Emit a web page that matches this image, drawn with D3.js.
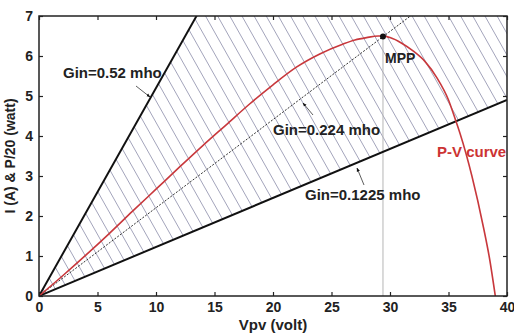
<!DOCTYPE html>
<html><head><meta charset="utf-8">
<script src="https://cdn.jsdelivr.net/npm/d3@7"></script>
<style>body{margin:0;background:#fff}svg{display:block}text{font-family:Arial,"Liberation Sans",sans-serif;font-weight:bold}</style>
</head><body><svg id="c" width="514" height="334"></svg>
<script>
const pvV = [0,2,4,6,8,10,12,14,16,18,20,22,24,26,27,28,29,29.4,30,31,32,33,34,35,35.6,36,37,38,38.5,39];
const pvP = [0,0.5,1.02,1.56,2.12,2.67,3.22,3.76,4.28,4.8,5.28,5.72,6.05,6.3,6.4,6.46,6.5,6.5,6.46,6.32,6.12,5.86,5.46,4.9,4.4,4.05,3.0,1.7,0.95,0];
const ginValues = [0.52, 0.2205, 0.1225];
const ginLabels = ["Gin=0.52 mho","Gin=0.224 mho","Gin=0.1225 mho"];
const mpp = [29.4, 6.49];
const xTicks = [0,5,10,15,20,25,30,35,40];
const yTicks = [0,1,2,3,4,5,6,7];
const hatchSlope = -0.52;
const hatchOffsets = d3.range(0, 60).map(k => 14.4 + (k - 27) * 0.54).filter(c => c > 0 && c < 28);

const svg = d3.select("#c");
const L=39,R=507,T=16,B=296;
const x = d3.scaleLinear().domain([0,40]).range([L,R]);
const y = d3.scaleLinear().domain([0,7]).range([B,T]);

const defs = svg.append("defs");
const region = [[0,0],[7/ginValues[0],7],[40,7],[40,40*ginValues[2]]];
defs.append("clipPath").attr("id","hc").append("polygon")
  .attr("points", region.map(p=>[x(p[0]),y(p[1])].join(",")).join(" "));
defs.append("clipPath").attr("id","pc").append("rect").attr("x",L).attr("y",T).attr("width",R-L).attr("height",B-T);
const mk = defs.append("marker").attr("id","ah").attr("viewBox","0 0 10 10").attr("refX",9).attr("refY",5)
  .attr("markerWidth",5).attr("markerHeight",5).attr("orient","auto");
mk.append("path").attr("d","M0,1 L10,5 L0,9 Z").attr("fill","#111");

const hg = svg.append("g").attr("clip-path","url(#hc)");
hatchOffsets.forEach(c=>{
  const v1=-10, v2=60;
  hg.append("line").attr("x1",x(v1)).attr("y1",y(c+hatchSlope*v1)).attr("x2",x(v2)).attr("y2",y(c+hatchSlope*v2))
    .attr("stroke","#a3a4bb").attr("stroke-width",1);
});

const pg = svg.append("g").attr("clip-path","url(#pc)");
pg.append("line").attr("x1",x(mpp[0])).attr("x2",x(mpp[0])).attr("y1",y(mpp[1])).attr("y2",y(0))
  .attr("stroke","#b5b5b5").attr("stroke-width",1);
ginValues.forEach((g,i)=>{
  pg.append("line").attr("x1",x(0)).attr("y1",y(0)).attr("x2",x(40)).attr("y2",y(40*g))
    .attr("stroke", i===1?"#333":"#111").attr("stroke-width", i===1?1:2)
    .attr("stroke-dasharray", i===1?"2,1.5":null);
});
const line = d3.line().x((d,i)=>x(pvV[i])).y((d,i)=>y(pvP[i])).curve(d3.curveMonotoneX);
pg.append("path").datum(pvV).attr("d",line).attr("fill","none").attr("stroke","#c8383c").attr("stroke-width",1.6);
pg.append("circle").attr("cx",x(mpp[0])).attr("cy",y(mpp[1])).attr("r",3).attr("fill","#111");

svg.append("rect").attr("x",L).attr("y",T).attr("width",R-L).attr("height",B-T).attr("fill","none").attr("stroke","#222").attr("stroke-width",1.5);
const fmt = d3.format("d");
const ax = svg.append("g").attr("transform",`translate(0,${B})`).call(d3.axisBottom(x).tickValues(xTicks).tickSize(-4).tickPadding(6).tickFormat(fmt));
const axT = svg.append("g").attr("transform",`translate(0,${T})`).call(d3.axisTop(x).tickValues(xTicks).tickSize(-4).tickFormat(""));
const ay = svg.append("g").attr("transform",`translate(${L},0)`).call(d3.axisLeft(y).tickValues(yTicks).tickSize(-4).tickPadding(6).tickFormat(fmt));
const ayR = svg.append("g").attr("transform",`translate(${R},0)`).call(d3.axisRight(y).tickValues(yTicks).tickSize(-4).tickFormat(""));
[ax,axT,ay,ayR].forEach(g=>{g.select(".domain").remove();g.selectAll("line").attr("stroke","#222").attr("stroke-width",1.2);
  g.selectAll("text").attr("font-size",14).attr("fill","#222").attr("font-family","Arial, 'Liberation Sans', sans-serif").attr("font-weight","bold");});

svg.append("text").attr("x",273).attr("y",330).attr("text-anchor","middle").attr("font-size",15).attr("fill","#222").text("Vpv (volt)");
svg.append("text").attr("transform","translate(15,156) rotate(-90)").attr("text-anchor","middle").attr("font-size",14).attr("fill","#222").text("I (A) & P/20 (watt)");

const ann = [
  {t:ginLabels[0], tx:63, ty:78, a:[[136,86],[150,97]]},
  {t:ginLabels[1], tx:273, ty:135, a:[[313,115],[303,103]]},
  {t:ginLabels[2], tx:305, ty:200, a:[[364,185],[357,168]]}
];
ann.forEach(d=>{
  svg.append("text").attr("x",d.tx).attr("y",d.ty).attr("font-size",15).attr("fill","#222").text(d.t);
  svg.append("line").attr("x1",d.a[0][0]).attr("y1",d.a[0][1]).attr("x2",d.a[1][0]).attr("y2",d.a[1][1])
    .attr("stroke","#333").attr("stroke-width",0.8).attr("marker-end","url(#ah)");
});
svg.append("text").attr("x",x(mpp[0])+2).attr("y",y(mpp[1])+27).attr("font-size",14).attr("fill","#222").text("MPP");
svg.append("text").attr("x",437).attr("y",157).attr("font-size",15).attr("fill","#cc3333").text("P-V curve");
</script></body></html>
